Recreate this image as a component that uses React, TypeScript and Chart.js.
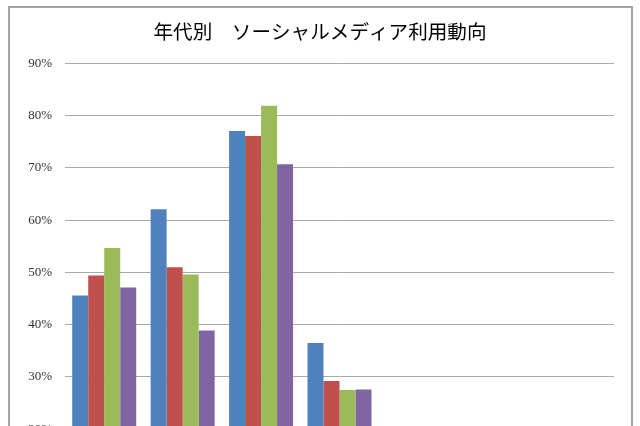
import React, { useEffect, useRef } from "react";
import { Chart, registerables } from "chart.js";

Chart.register(...registerables);

// Age groups (the lower part of the chart, including the axis labels and legend, is cropped in the reference)
const categories = ["10代", "20代", "30代", "40代", "50代", "60代", "70代"];
const seriesNames = ["系列1", "系列2", "系列3", "系列4"];
// values in percent; categories 5-7 lie below the visible 20% line in the reference
const series1 = [45.6, 62.1, 77.1, 36.5, 17, 11, 6];
const series2 = [49.4, 51.0, 76.1, 29.2, 15, 9, 5];
const series3 = [54.7, 49.6, 81.9, 27.5, 14, 8, 4];
const series4 = [47.1, 38.9, 70.7, 27.6, 13, 8, 4];
const colors = ["#4F81BD", "#C0504D", "#9BBB59", "#8064A2"];
const yMin = 0;
const yMax = 90;
const yStep = 10;
const titleText = "年代別　ソーシャルメディア利用動向";

export default function App() {
  const ref = useRef<HTMLCanvasElement | null>(null);

  useEffect(() => {
    if (!ref.current) return;
    const all = [series1, series2, series3, series4];
    const chart = new Chart(ref.current, {
      type: "bar",
      data: {
        labels: categories,
        datasets: all.map((d, i) => ({
          label: seriesNames[i],
          data: d,
          backgroundColor: colors[i],
          borderWidth: 0,
          barPercentage: 1,
          categoryPercentage: 0.816,
        })),
      },
      options: {
        responsive: false,
        animation: false,
        layout: { padding: { top: 10, left: 26, right: 26, bottom: 10 } },
        plugins: {
          title: {
            display: true,
            text: titleText,
            color: "#000",
            font: { family: "'Noto Sans CJK JP', sans-serif", size: 19.6, weight: "normal" },
            padding: { top: 10, bottom: 20 },
          },
          legend: {
            display: true,
            position: "bottom",
            labels: {
              boxWidth: 10,
              boxHeight: 10,
              color: "#000",
              font: { family: "'Liberation Serif', serif", size: 12 },
            },
          },
          tooltip: { enabled: false },
        },
        scales: {
          x: {
            grid: { display: false },
            border: { display: true, color: "#a6a6a6" },
            ticks: {
              color: "#000",
              font: { family: "'Noto Sans CJK JP', sans-serif", size: 12 },
            },
          },
          y: {
            min: yMin,
            max: yMax,
            afterFit: (scale: any) => {
              scale.width = 39;
            },
            ticks: {
              stepSize: yStep,
              padding: 13,
              color: "#333",
              font: { family: "'Liberation Serif', serif", size: 13 },
              callback: (v: any) => v + "%",
            },
            grid: { color: "#a8a8a8", lineWidth: 1, drawTicks: false },
            border: { display: false },
          },
        },
      },
    });
    return () => chart.destroy();
  }, []);

  return (
    <div style={{ position: "absolute", left: 0, top: 0, width: 640, height: 604, background: "#fff" }}>
      <canvas ref={ref} width={640} height={604} style={{ display: "block" }} />
      <div
        style={{
          position: "absolute",
          left: 8,
          top: 6,
          width: 621,
          height: 700,
          border: "2px solid #a4a4a4",
          pointerEvents: "none",
        }}
      />
    </div>
  );
}
